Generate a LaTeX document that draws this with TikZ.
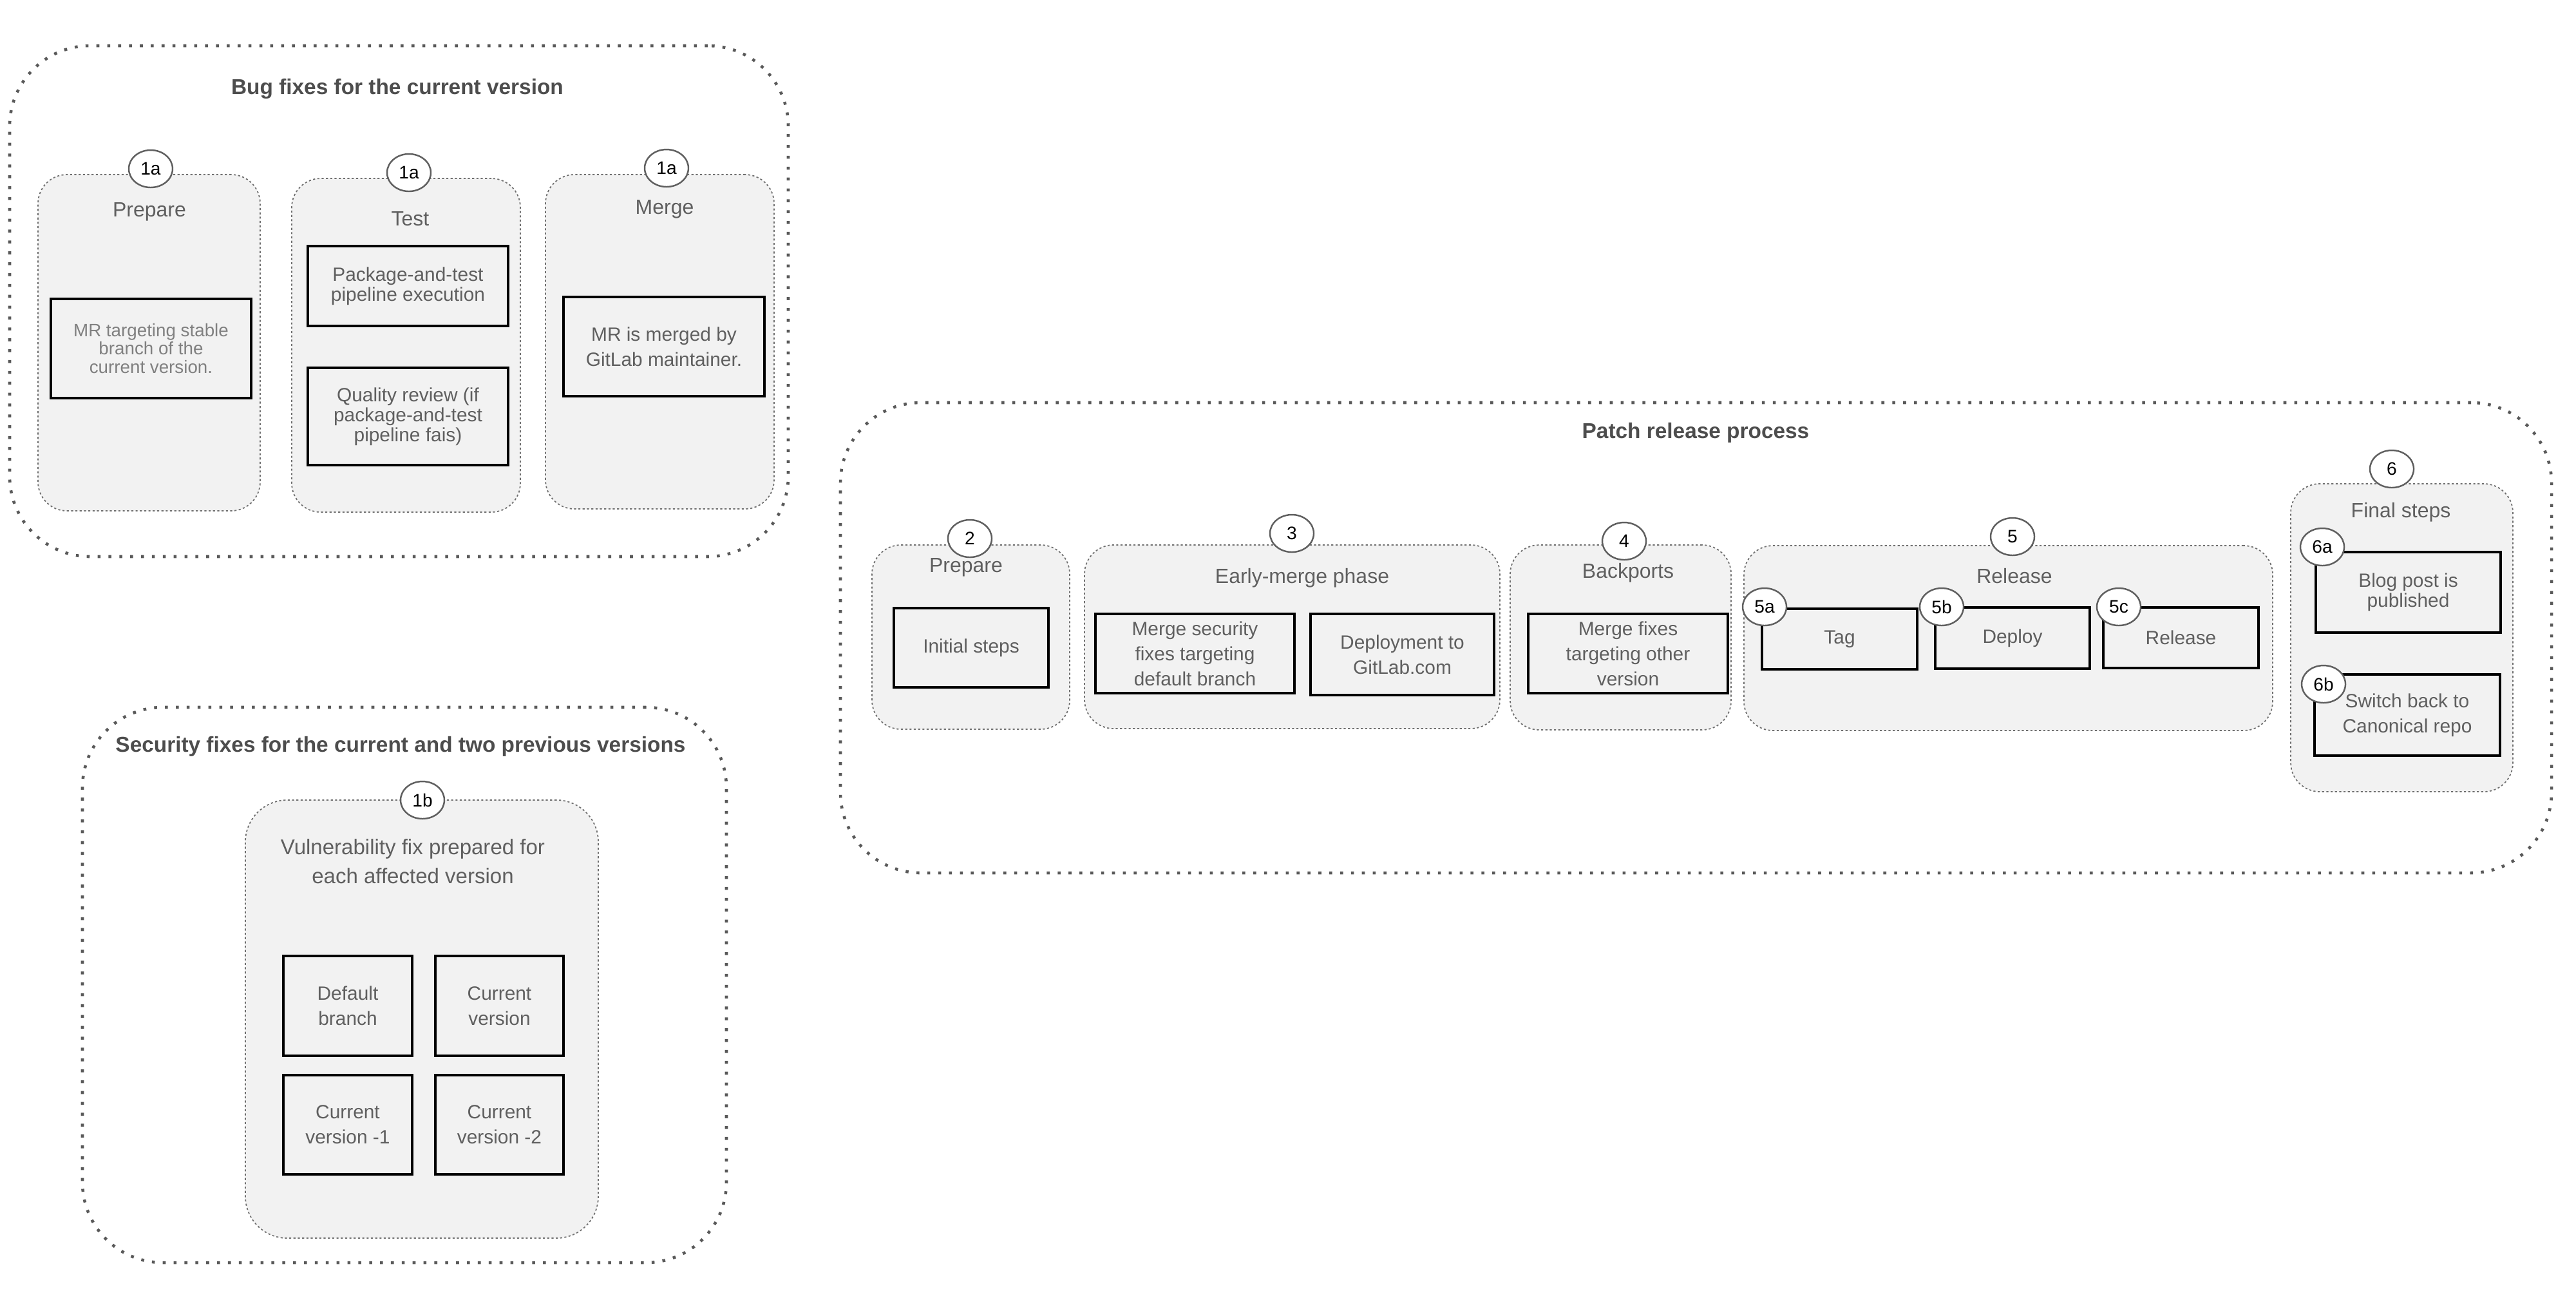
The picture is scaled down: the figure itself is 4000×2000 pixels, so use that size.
\documentclass[tikz,border=0pt]{standalone}
\usepackage{fontspec}
\setmainfont{Liberation Sans}
\usetikzlibrary{fit,shapes.geometric}
\definecolor{txtgray}{HTML}{5F5F5F}
\definecolor{titlegray}{HTML}{4D4D4D}
\definecolor{lightgray}{HTML}{808080}
\definecolor{bordergray}{HTML}{595959}
\definecolor{dotgray}{HTML}{6F6F6F}
\definecolor{fillgray}{HTML}{F2F2F2}
\definecolor{circgray}{HTML}{5F5F5F}
\tikzset{
  bigbox/.style={draw=bordergray, line width=1.3pt, dash pattern=on 1.3pt off 3.5pt, rounded corners=12.5mm, inner sep=0pt},
  group/.style={draw=dotgray, fill=fillgray, line width=0.5pt, dash pattern=on 0.9pt off 1.0pt, rounded corners=4.5mm, inner sep=0pt},
  stepbox/.style={draw=black, fill=fillgray, line width=1pt, inner sep=0pt},
  steptext/.style={inner sep=0pt, align=center, text=txtgray, font=\fontsize{8.5}{8.8}\selectfont},
  loose/.style={font=\fontsize{8.5}{11.1}\selectfont},
  num/.style={ellipse, draw=circgray, fill=white, line width=0.7pt, minimum width=6.8mm, minimum height=5.8mm, inner sep=0pt, text=black, font=\fontsize{8}{9}\selectfont},
  lbl/.style={text=txtgray, font=\fontsize{9.1}{12.8}\selectfont, align=center, inner sep=0pt},
  ttl/.style={text=titlegray, font=\fontsize{9.5}{11}\selectfont\bfseries, inner sep=0pt},
}
\begin{document}
\begin{tikzpicture}[x=0.1mm, y=-0.1mm]
\useasboundingbox (0,0) rectangle (4000,2000);
% big containers
\node[bigbox, fit={(15,71) (1224,864)}] (bugs) {};
\node[bigbox, fit={(128,1098) (1128,1960)}] (sec) {};
\node[bigbox, fit={(1305,625) (3962,1355)}] (patch) {};
\node[ttl] (tbugs) at (617,138) {Bug fixes for the current version};
\node[ttl] (tsec) at (622,1159) {Security fixes for the current and two previous versions};
\node[ttl] (tpatch) at (2633,672) {Patch release process};
% groups
\node[group, fit={(59,271) (404,793)}] (bprep) {};
\node[group, fit={(453,277) (808,795)}] (btest) {};
\node[group, fit={(847,271) (1202,790)}] (bmerge) {};
\node[group, rounded corners=6.5mm, fit={(381,1242) (929,1922)}] (vuln) {};
\node[group, fit={(1354,846) (1661,1132)}] (pprep) {};
\node[group, fit={(1684,846) (2329,1131)}] (early) {};
\node[group, fit={(2345,846) (2688,1133)}] (back) {};
\node[group, fit={(2708,847) (3529,1134)}] (rel) {};
\node[group, fit={(3557,751) (3902,1229)}] (final) {};
% group labels
\node[lbl] (lbprep) at (232,329) {Prepare};
\node[lbl] (lbtest) at (637,340) {Test};
\node[lbl] (lbmerge) at (1032,325) {Merge};
\node[lbl, font=\fontsize{9.4}{13}\selectfont] (lvuln) at (641,1337) {Vulnerability fix prepared for\\each affected version};
\node[lbl] (lpprep) at (1500,881) {Prepare};
\node[lbl] (learly) at (2022,897) {Early-merge phase};
\node[lbl] (lback) at (2528,889) {Backports};
\node[lbl] (lrel) at (3128,894) {Release};
\node[lbl] (lfinal) at (3728,795) {Final steps};
% step boxes
\node[stepbox, fit={(79,464) (390,618)}] (mrt) {};
\node[stepbox, fit={(478,382) (789,506)}] (pkg) {};
\node[stepbox, fit={(478,571) (789,722)}] (qual) {};
\node[stepbox, fit={(875,461) (1187,615)}] (mrm) {};
\node[stepbox, fit={(440,1484) (640,1639)}] (defb) {};
\node[stepbox, fit={(676,1484) (875,1639)}] (curv) {};
\node[stepbox, fit={(440,1669) (640,1823)}] (cv1) {};
\node[stepbox, fit={(676,1669) (875,1823)}] (cv2) {};
\node[stepbox, fit={(1388,944) (1628,1067)}] (init) {};
\node[stepbox, fit={(1701,953) (2010,1076)}] (msec) {};
\node[stepbox, fit={(2035,953) (2320,1079)}] (depl) {};
\node[stepbox, fit={(2373,953) (2683,1076)}] (mfix) {};
\node[stepbox, fit={(2736,945) (2977,1039)}] (tag) {};
\node[stepbox, fit={(3005,943) (3245,1038)}] (depy) {};
\node[stepbox, fit={(3266,943) (3507,1037)}] (relb) {};
\node[stepbox, fit={(3596,857) (3883,982)}] (blog) {};
\node[stepbox, fit={(3594,1047) (3882,1173)}] (swb) {};
% step texts
\node[steptext, text=lightgray, font=\fontsize{7.9}{8}\selectfont] (mrt-t) at (mrt.center) {MR targeting stable\\branch of the\\current version.};
\node[steptext] (pkg-t) at (pkg.center) {Package-and-test\\pipeline execution};
\node[steptext] (qual-t) at (qual.center) {Quality review (if\\package-and-test\\pipeline fais)};
\node[steptext, loose] (mrm-t) at (mrm.center) {MR is merged by\\GitLab maintainer.};
\node[steptext, loose] (defb-t) at (defb.center) {Default\\branch};
\node[steptext, loose] (curv-t) at (curv.center) {Current\\version};
\node[steptext, loose] (cv1-t) at (cv1.center) {Current\\version -1};
\node[steptext, loose] (cv2-t) at (cv2.center) {Current\\version -2};
\node[steptext] (init-t) at (init.center) {Initial steps};
\node[steptext, loose] (msec-t) at (msec.center) {Merge security\\fixes targeting\\default branch};
\node[steptext, loose] (depl-t) at (depl.center) {Deployment to\\GitLab.com};
\node[steptext, loose] (mfix-t) at (mfix.center) {Merge fixes\\targeting other\\version};
\node[steptext] (tag-t) at (tag.center) {Tag};
\node[steptext] (depy-t) at (depy.center) {Deploy};
\node[steptext] (relb-t) at (relb.center) {Release};
\node[steptext] (blog-t) at (blog.center) {Blog post is\\published};
\node[steptext, loose] (swb-t) at (swb.center) {Switch back to\\Canonical repo};
% number badges
\node[num] (c1a1) at (234,262) {1a};
\node[num] (c1a2) at (635,268) {1a};
\node[num] (c1a3) at (1035,261) {1a};
\node[num] (c1b) at (656,1242) {1b};
\node[num] (c2) at (1506,836) {2};
\node[num] (c3) at (2006,828) {3};
\node[num] (c4) at (2522,840) {4};
\node[num] (c5) at (3125,833) {5};
\node[num] (c5a) at (2740,942) {5a};
\node[num] (c5b) at (3015,942) {5b};
\node[num] (c5c) at (3290,942) {5c};
\node[num] (c6) at (3714,728) {6};
\node[num] (c6a) at (3606,849) {6a};
\node[num] (c6b) at (3608,1062) {6b};
\end{tikzpicture}
\end{document}
